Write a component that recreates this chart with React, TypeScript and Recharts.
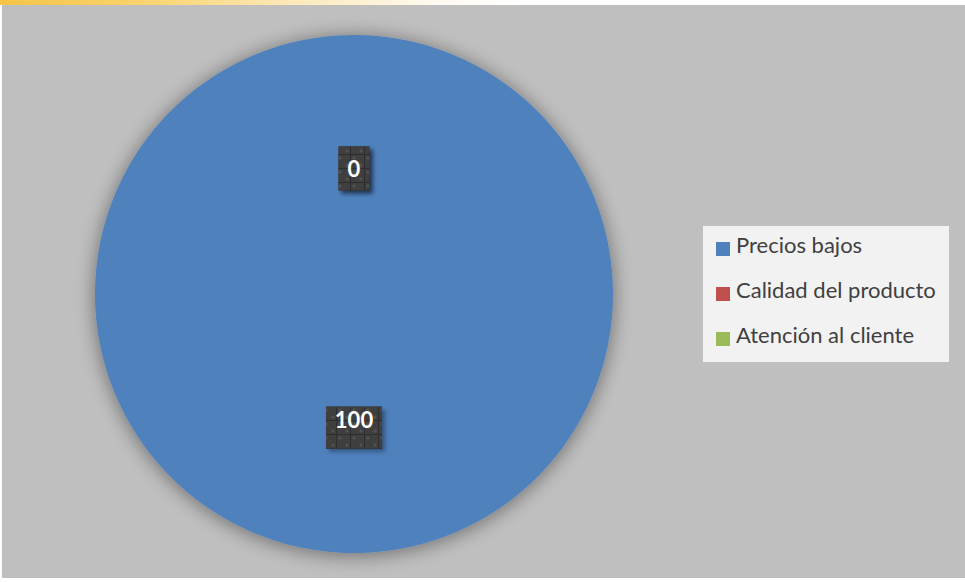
import React from "react";
import { PieChart, Pie, Cell, Legend } from "recharts";

const categories = ["Precios bajos", "Calidad del producto", "Atención al cliente"];
const values = [100, 0, 0];
const colors = ["#4f81bd", "#c0504d", "#9bbb59"];

const data = categories.map((name, i) => ({ name, value: values[i] }));

const RAD = Math.PI / 180;

const renderLabel = (props: any) => {
  const { cx, cy, midAngle, outerRadius, value } = props;
  const r = outerRadius * 0.485;
  const x = cx + r * Math.cos(-midAngle * RAD);
  const y = cy + r * Math.sin(-midAngle * RAD);
  const txt = String(value);
  const isBig = txt.length > 1;
  const w = isBig ? 56 : 31;
  const h = isBig ? 42 : 44;
  const top = isBig ? y - 13 : y - 22;
  return (
    <g>
      <rect x={x - w / 2 + 3} y={top + 3} width={w} height={h} fill="#000" opacity={0.35} filter="url(#boxBlur)" />
      <rect x={x - w / 2} y={top} width={w} height={h} fill="#3f3f3f" />
      <rect x={x - w / 2} y={top} width={w} height={h} fill="url(#dots)" />
      <text
        x={x}
        y={y}
        fill="#ffffff"
        textAnchor="middle"
        dominantBaseline="central"
        style={{ fontFamily: "Lato, 'Open Sans', sans-serif", fontWeight: 700, fontSize: 22 }}
      >
        {txt}
      </text>
    </g>
  );
};

const renderLegend = (props: any) => {
  const payload = [...(props.payload || [])].sort(
    (a: any, b: any) => categories.indexOf(a.value) - categories.indexOf(b.value)
  );
  return (
    <div
      style={{
        position: "relative",
        background: "#f2f2f2",
        width: 246,
        height: 136,
        fontFamily: "Lato, 'Open Sans', sans-serif",
        color: "#404040",
      }}
    >
      {payload.map((p: any, i: number) => (
        <div key={i} style={{ position: "absolute", left: 13, top: 16 + i * 45, height: 20, whiteSpace: "nowrap" }}>
          <span
            style={{
              position: "absolute",
              left: 0,
              top: 0,
              width: 14,
              height: 14,
              background: p.color,
            }}
          />
          <span
            style={{
              position: "absolute",
              left: 20,
              top: -10,
              fontSize: 22,
              lineHeight: "26px",
            }}
          >
            {p.value}
          </span>
        </div>
      ))}
    </div>
  );
};

export default function App() {
  return (
    <div style={{ position: "absolute", left: 0, top: 0, width: 965, height: 582, background: "#ffffff", overflow: "hidden" }}>
      <svg width={0} height={0} style={{ position: "absolute" }}>
        <defs>
          <filter id="pieShadow" x="-20%" y="-20%" width="140%" height="140%">
            <feGaussianBlur in="SourceAlpha" stdDeviation="10" />
            <feOffset dx="0" dy="2" result="b" />
            <feComponentTransfer>
              <feFuncA type="linear" slope="0.45" />
            </feComponentTransfer>
            <feMerge>
              <feMergeNode />
              <feMergeNode in="SourceGraphic" />
            </feMerge>
          </filter>
          <filter id="boxBlur" x="-30%" y="-30%" width="160%" height="160%">
            <feGaussianBlur stdDeviation="2" />
          </filter>
          <pattern id="dots" width="14" height="14" patternUnits="userSpaceOnUse">
            <rect x="0" y="0" width="14" height="14" fill="none" />
            <circle cx="4" cy="4" r="1.6" fill="#5a5a5a" opacity="0.7" />
            <circle cx="11" cy="11" r="1.6" fill="#5a5a5a" opacity="0.7" />
            <rect x="0" y="0" width="1" height="14" fill="#2e2e2e" />
            <rect x="0" y="0" width="14" height="1" fill="#2e2e2e" />
          </pattern>
        </defs>
      </svg>
      <div
        style={{
          position: "absolute",
          left: 0,
          top: 0,
          width: 965,
          height: 5,
          background: "linear-gradient(to right, #f6c447 0%, #f9d36e 15%, #fce9b8 30%, #fffaf0 45%, #ffffff 55%)",
        }}
      />
      <div style={{ position: "absolute", left: 2, top: 5, width: 963, height: 573, background: "#bfbfbf" }} />
      <div style={{ position: "absolute", left: 0, top: 0 }}>
        <PieChart width={965} height={582} margin={{ top: 0, right: 0, bottom: 0, left: 0 }}>
          <Pie
            data={data}
            dataKey="value"
            nameKey="name"
            cx={354}
            cy={294}
            outerRadius={259}
            startAngle={90}
            endAngle={-270}
            stroke="none"
            labelLine={false}
            label={renderLabel}
            isAnimationActive={false}
            style={{ filter: "url(#pieShadow)" }}
          >
            {data.map((d, i) => (
              <Cell key={d.name} fill={colors[i]} stroke="none" />
            ))}
          </Pie>
          <Legend
            content={renderLegend}
            wrapperStyle={{ position: "absolute", left: 703, top: 226, width: 246, height: 136 }}
          />
        </PieChart>
      </div>
    </div>
  );
}
